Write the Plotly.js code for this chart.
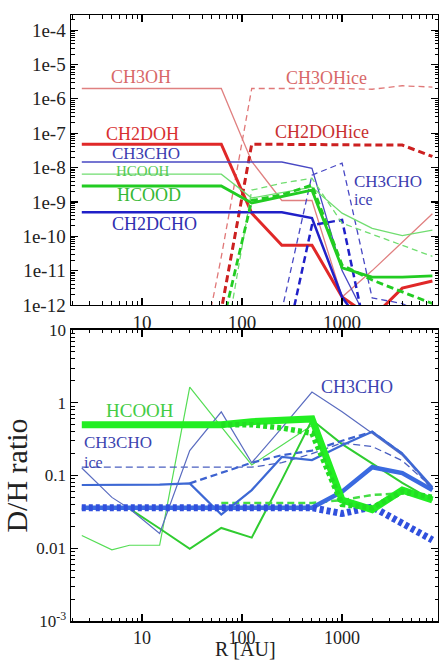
<!DOCTYPE html>
<html><head><meta charset="utf-8">
<script src="https://cdn.plot.ly/plotly-3.0.1.min.js"></script>
<style>html,body{margin:0;padding:0;background:#fff}#chart{width:439px;height:660px}</style>
</head><body><div id="chart"></div>
<script>
// Radial grid [AU]
const R = [2.5, 5, 7.5, 15, 30, 62, 125, 250, 500, 1000, 2000, 4000, 8000];

// ---- Top panel: abundances ----
const CH3OH      = [2e-6, 2e-6, 2e-6, 2e-6, 2e-6, 2e-6, 1.5e-8, 1.1e-9, 1.1e-9, 1.7e-12, 1.0e-11, 6.8e-11, 4.5e-10];
const CH3OHice   = [null, null, null, null, 6e-16, 2.5e-11, 2e-6, 2e-6, 2e-6, 2e-6, 1.9e-6, 2.4e-6, 2.2e-6];
const CH2DOH     = [4.8e-8, 4.8e-8, 4.8e-8, 4.8e-8, 4.8e-8, 4.8e-8, 4.7e-10, 5.5e-11, 5.5e-11, 1.7e-12, 4.2e-13, 3.1e-12, 5e-12];
const CH2DOHice  = [null, null, null, null, 1e-17, 7e-13, 4.8e-8, 4.8e-8, 4.8e-8, 4.6e-8, 4.5e-8, 4.5e-8, 2.1e-8];
const CH3CHO     = [1.45e-8, 1.45e-8, 1.45e-8, 1.45e-8, 1.45e-8, 1.45e-8, 1.45e-8, 1.45e-8, 9.5e-9, 1e-11, 1.9e-13, 1e-14, 1e-15];
const CH2DCHO    = [5e-10, 5e-10, 5e-10, 5e-10, 5e-10, 5e-10, 5e-10, 5e-10, 3.4e-10, 1.7e-12, 1e-13, 1e-14, 1e-15];
const CH3CHOice  = [null, null, null, null, null, null, 1.3e-16, 7e-13, 6e-9, 1.35e-8, 1.6e-12, 1.1e-12, 4e-13];
const CH2DCHOice = [null, null, null, null, null, null, 1e-17, 2e-14, 2.1e-10, 3e-10, 2e-14, 1e-16, null];
const HCOOH      = [6.4e-9, 6.4e-9, 6.4e-9, 6.4e-9, 6.4e-9, 6.4e-9, 1.3e-9, 1.9e-9, 2.7e-9, 4.7e-10, 1.7e-10, 1.05e-10, 1.5e-10];
const HCOOHice   = [null, null, null, null, null, 1.5e-14, 2.2e-9, 3.5e-9, 4.9e-9, 2.4e-10, 1.15e-10, 5.5e-11, 2.6e-11];
const HCOOD      = [2.9e-9, 2.9e-9, 2.9e-9, 2.9e-9, 2.9e-9, 2.9e-9, 9.3e-10, 1.4e-9, 2.2e-9, 1.2e-11, 6.5e-12, 6.5e-12, 7e-12];
const HCOODice   = [null, null, null, null, null, 1.9e-13, 1.1e-9, 1.6e-9, 3.1e-9, 1.45e-11, 5.3e-12, 2.4e-12, 1.1e-12];

// ---- Bottom panel: D/H ratios ----
const DH_HCOOH       = [0.5, 0.5, 0.5, 0.5, 0.5, 0.5, 0.55, 0.57, 0.6, 0.046, 0.034, 0.063, 0.046];
const DH_HCOOHice    = [null, null, null, null, null, 0.5, 0.5, 0.45, 0.38, 0.04, 0.036, 0.06, 0.05];
const DH_HCOOH_a     = [0.015, 0.0095, 0.011, 0.011, 1.64, 0.46, 0.14, 0.26, 0.49, 0.05, 0.035, 0.06, 0.045];
const DH_HCOOH_b     = [0.035, 0.035, 0.035, 0.0187, 0.0098, 0.019, 0.014, 0.087, 0.58, 0.27, 0.148, 0.079, 0.046];
const DH_HCOOH_c     = [null, null, null, null, null, 0.042, 0.042, 0.042, 0.042, 0.046, 0.054, 0.057, 0.05];
const DH_CH3CHO_dot  = [0.036, 0.036, 0.036, 0.036, 0.036, 0.036, 0.036, 0.036, 0.036, 0.030, 0.037, 0.022, 0.013];
const DH_CH3CHO_thk  = [0.036, 0.036, 0.036, 0.036, 0.036, 0.036, 0.036, 0.036, 0.036, 0.06, 0.13, 0.108, 0.063];
const DH_CH3CHO_med  = [0.074, 0.074, 0.074, 0.075, 0.078, 0.029, 0.063, 0.18, 0.163, 0.26, 0.4, 0.2, 0.069];
const DH_CH3CHO_thin = [0.127, 0.05, 0.035, 0.016, 0.22, 0.75, 0.15, 0.45, 1.4, 0.75, 0.38, 0.19, 0.068];
const DH_CH3CHOice   = [0.13, 0.13, 0.13, 0.13, 0.13, 0.13, 0.13, 0.15, 0.2, 0.28, 0.25, 0.16, 0.068];
const DH_CH3CHOice2  = [null, null, null, null, 0.078, 0.108, 0.15, 0.19, 0.22, 0.3, 0.4, 0.2, 0.065];

const topTicks = [1e-12,1e-11,1e-10,1e-9,1e-8,1e-7,1e-6,1e-5,1e-4];
const topTickText = ['1e-12','1e-11','1e-10','1e-9','1e-8','1e-7','1e-6','1e-5','1e-4'];
const botTicks = [0.001, 0.01, 0.1, 1, 10];
const botTickText = ['10<sup>-3</sup>','0.01','0.1','1','10'];
const xTicks = [10, 100, 1000];
const xTickText = ['10','100','1000'];

function tr(y, color, width, dash, ax) {
  return {x: R, y: y, type: 'scatter', mode: 'lines', xaxis: ax === 2 ? 'x2' : 'x', yaxis: ax === 2 ? 'y2' : 'y',
    line: {color: color, width: width, dash: dash || 'solid'}, connectgaps: false, showlegend: false, hoverinfo: 'skip'};
}

const data = [
  tr(CH3OH, '#e08080', 1.3),
  tr(CH3OHice, '#e07878', 1.3, '6px,4px'),
  tr(CH2DOH, '#e02828', 3),
  tr(CH2DOHice, '#cc2020', 3, '7px,4px'),
  tr(CH3CHO, '#4848c4', 1.3),
  tr(CH2DCHO, '#2020c8', 2.5),
  tr(CH3CHOice, '#4848c4', 1.3, '6px,4px'),
  tr(CH2DCHOice, '#2020c8', 2.5, '7px,4px'),
  tr(HCOOH, '#70dd70', 1.3),
  tr(HCOOHice, '#70dd70', 1.3, '6px,4px'),
  tr(HCOOD, '#22cc22', 2.8),
  tr(HCOODice, '#22cc22', 2.8, '7px,4px'),

  tr(DH_HCOOH_a, '#55dd55', 1.2, null, 2),
  tr(DH_HCOOH_b, '#30cc30', 2, null, 2),
  tr(DH_HCOOH_c, '#44dd44', 2.5, '7px,4px', 2),
  tr(DH_CH3CHOice, '#4a5fc0', 1.3, '7px,4px', 2),
  tr(DH_CH3CHOice2, '#3d62d0', 2.2, '7px,4px', 2),
  tr(DH_CH3CHO_thin, '#5a6cc0', 1.2, null, 2),
  tr(DH_CH3CHO_med, '#3d68d4', 2.2, null, 2),
  tr(DH_CH3CHO_thk, '#3a6ae0', 4.5, null, 2),
  tr(DH_CH3CHO_dot, '#3050dd', 7, '4px,3px', 2),
  tr(DH_HCOOH, '#22ee22', 7, null, 2),
  tr(DH_HCOOHice, '#22dd22', 5.5, '4px,3px', 2),
];

const serif = "'Liberation Serif', 'Times New Roman', serif";
const axBase = {
  type: 'log', showgrid: false, zeroline: false, showline: true, linecolor: '#000', linewidth: 1.5,
  ticks: 'inside', ticklen: 7, tickwidth: 1.2, tickcolor: '#000', mirror: 'ticks',
  tickfont: {family: serif, size: 19, color: '#222'},
  minor: {ticks: 'inside', ticklen: 3.5, tickwidth: 1, tickcolor: '#000', dtick: 'D1'}
};
const xr = [Math.log10(1.95), Math.log10(9100)];

function P(px, py) { return {x: (px - 71) / 367, y: (621 - py) / 606}; }
function ann(text, px, py, color, size, xanchor) {
  const p = P(px, py);
  return {text: text, x: p.x, y: p.y, xref: 'paper', yref: 'paper', showarrow: false,
    xanchor: xanchor || 'center', yanchor: 'middle', font: {family: serif, size: size || 18, color: color}};
}

const layout = {
  width: 439, height: 660, paper_bgcolor: '#fff', plot_bgcolor: '#fff',
  margin: {l: 71, r: 1, t: 15, b: 39},
  showlegend: false,
  xaxis: Object.assign({}, axBase, {range: xr, anchor: 'y', tickvals: xTicks, ticktext: xTickText}),
  yaxis: Object.assign({}, axBase, {range: [-12, -3.56], domain: [0.5215, 1], anchor: 'x', tickvals: topTicks, ticktext: topTickText}),
  xaxis2: Object.assign({}, axBase, {range: xr, anchor: 'y2', tickvals: xTicks, ticktext: xTickText,
    tickfont: {family: serif, size: 18, color: '#222'}}),
  yaxis2: Object.assign({}, axBase, {range: [-3, 1], domain: [0, 0.4802], anchor: 'x2', tickvals: botTicks, ticktext: botTickText,
    tickfont: {family: serif, size: 17, color: '#222'},
    title: {text: 'D/H ratio', font: {family: serif, size: 30, color: '#222'}, standoff: 2}}),
  annotations: [
    ann('CH3OH', 141, 77, '#d86868'),
    ann('CH2DOH', 142, 134, '#d83030'),
    ann('CH3CHO', 146, 153, '#3c3cb0', 17),
    ann('HCOOH', 143, 171, '#55c855', 15),
    ann('HCOOD', 149, 195, '#35b835'),
    ann('CH2DCHO', 154, 224, '#3030b0'),
    ann('CH3OHice', 326, 78, '#d86868'),
    ann('CH2DOHice', 322, 132, '#c83030'),
    ann('CH3CHO', 352, 181, '#3c3cb0', 17, 'left'),
    ann('ice', 352, 199, '#3c3cb0', 16, 'left'),
    ann('HCOOH', 140, 410, '#44cc44', 19),
    ann('CH3CHO', 82, 442, '#3c44b0', 17, 'left'),
    ann('ice', 82, 462, '#3c44b0', 16, 'left'),
    ann('CH3CHO', 357, 387, '#3c44b0', 18),
    ann('R [AU]', 245, 649, '#222', 20)
  ]
};

Plotly.newPlot('chart', data, layout, {displayModeBar: false, staticPlot: true});
</script></body></html>
